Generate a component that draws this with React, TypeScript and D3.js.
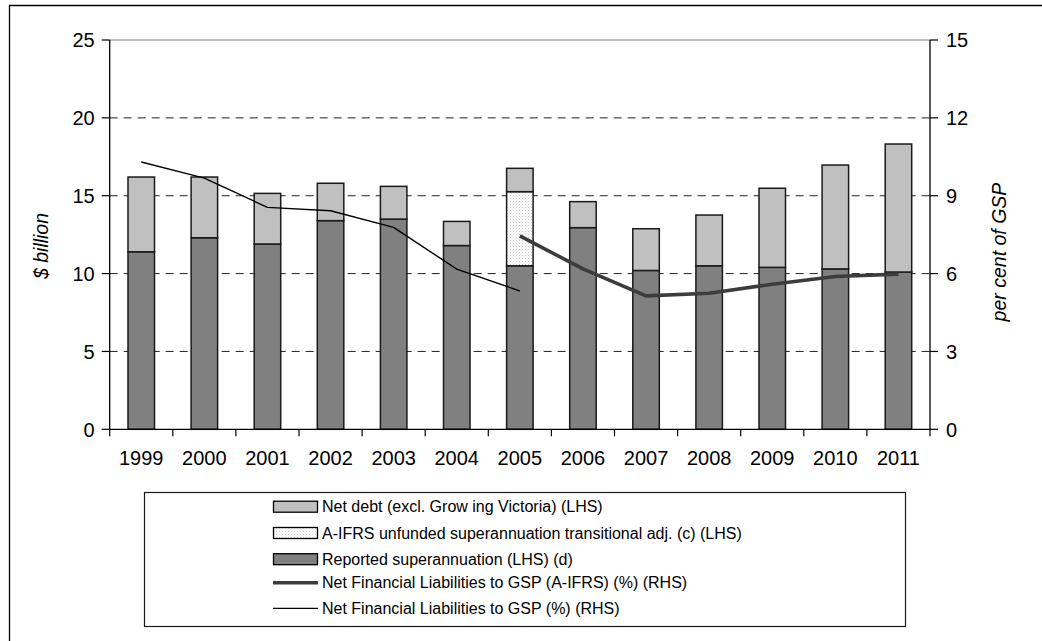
import React from 'react';
import * as d3 from 'd3';

const years = ['1999', '2000', '2001', '2002', '2003', '2004', '2005', '2006', '2007', '2008', '2009', '2010', '2011'];
const reportedSuper = [11.4, 12.3, 11.9, 13.4, 13.5, 11.8, 10.5, 12.95, 10.2, 10.5, 10.4, 10.3, 10.1];
const aifrsAdj = [0, 0, 0, 0, 0, 0, 4.76, 0, 0, 0, 0, 0, 0];
const netDebt = [4.8, 3.9, 3.25, 2.4, 2.1, 1.55, 1.5, 1.67, 2.68, 3.26, 5.08, 6.67, 8.22];
const nflGsp: (number | null)[] = [10.3, 9.68, 8.55, 8.42, 7.78, 6.17, 5.33, null, null, null, null, null, null];
const nflGspAifrs: (number | null)[] = [null, null, null, null, null, null, 7.45, 6.18, 5.14, 5.24, 5.59, 5.89, 5.98];
const leftTicks = [0, 5, 10, 15, 20, 25];
const rightTicks = [0, 3, 6, 9, 12, 15];
const legendItems = [
  { label: 'Net debt (excl. Grow ing Victoria) (LHS)', kind: 'netDebt' },
  { label: 'A-IFRS unfunded superannuation transitional adj. (c) (LHS)', kind: 'adj' },
  { label: 'Reported superannuation (LHS) (d)', kind: 'super' },
  { label: 'Net Financial Liabilities to GSP (A-IFRS) (%) (RHS)', kind: 'thick' },
  { label: 'Net Financial Liabilities to GSP (%) (RHS)', kind: 'thin' },
];

const FONT = '"Liberation Sans", Arial, Helvetica, sans-serif';

export default function App() {
  const L = 109.7, R = 930, T = 40, B = 429.3;
  const x = d3.scaleBand<string>().domain(years).range([L, R]).padding(0);
  const yL = d3.scaleLinear().domain([0, 25]).range([B, T]);
  const yR = d3.scaleLinear().domain([0, 15]).range([B, T]);
  const barW = x.step() * 0.42;
  const cx = (y: string) => (x(y) as number) + x.step() / 2;

  const lineGen = d3.line<number | null>()
    .defined((d) => d !== null)
    .x((_, i) => cx(years[i]))
    .y((d) => yR(d as number));

  const stacked = years.map((yr, i) => {
    const s0 = 0, s1 = reportedSuper[i];
    const a1 = s1 + aifrsAdj[i];
    const n1 = a1 + netDebt[i];
    return { yr, s0, s1, a1, n1 };
  });

  const legendRowY = [506.7, 533, 559.2, 582.7, 608.3];

  return (
    <svg width={1042} height={641} style={{ position: 'absolute', left: 0, top: 0, background: '#fff' }}>
      <defs>
        <pattern id="dots" width="3" height="3" patternUnits="userSpaceOnUse">
          <rect width="3" height="3" fill="#ffffff" />
          <rect x="0" y="0" width="1" height="1" fill="#c8c8c8" />
          <rect x="1.5" y="1.5" width="1" height="1" fill="#d8d8d8" />
        </pattern>
      </defs>
      <rect x={0} y={0} width={1042} height={641} fill="#fff" />
      {/* outer frame */}
      <path d="M9.5,641 V5.5 H1042" fill="none" stroke="#000" strokeWidth={1.3} />

      {/* gridlines */}
      {leftTicks.filter((t) => t > 0 && t < 25).map((t) => (
        <line key={'g' + t} x1={L} x2={R} y1={yL(t)} y2={yL(t)} stroke="#222" strokeWidth={1} strokeDasharray="8,6" />
      ))}
      <line x1={L} x2={R} y1={yL(25)} y2={yL(25)} stroke="#808080" strokeWidth={1.2} />

      {/* bars */}
      {stacked.map((d) => (
        <g key={d.yr}>
          <rect x={cx(d.yr) - barW / 2} y={yL(d.s1)} width={barW} height={yL(d.s0) - yL(d.s1)} fill="#808080" stroke="#1a1a1a" strokeWidth={1.5} />
          {d.a1 > d.s1 && (
            <rect x={cx(d.yr) - barW / 2} y={yL(d.a1)} width={barW} height={yL(d.s1) - yL(d.a1)} fill="url(#dots)" stroke="#1a1a1a" strokeWidth={1.5} />
          )}
          <rect x={cx(d.yr) - barW / 2} y={yL(d.n1)} width={barW} height={yL(d.a1) - yL(d.n1)} fill="#c0c0c0" stroke="#1a1a1a" strokeWidth={1.5} />
        </g>
      ))}

      {/* lines */}
      <path d={lineGen(nflGsp) || ''} fill="none" stroke="#000" strokeWidth={1.4} strokeLinejoin="round" />
      <path d={lineGen(nflGspAifrs) || ''} fill="none" stroke="#3c3c3c" strokeWidth={3.6} strokeLinejoin="round" />

      {/* axes */}
      <line x1={L} x2={L} y1={T} y2={B} stroke="#000" strokeWidth={1.3} />
      <line x1={R} x2={R} y1={T} y2={B} stroke="#000" strokeWidth={1.3} />
      <line x1={L} x2={R} y1={B} y2={B} stroke="#000" strokeWidth={1.3} />
      {leftTicks.map((t) => (
        <g key={'l' + t}>
          <line x1={L - 8} x2={L} y1={yL(t)} y2={yL(t)} stroke="#000" strokeWidth={1.2} />
          <text x={L - 15} y={yL(t)} dy="0.36em" textAnchor="end" fontSize={20} fontFamily={FONT} fill="#000">{t}</text>
        </g>
      ))}
      {rightTicks.map((t) => (
        <g key={'r' + t}>
          <line x1={R} x2={R + 8} y1={yR(t)} y2={yR(t)} stroke="#000" strokeWidth={1.2} />
          <text x={R + 16} y={yR(t)} dy="0.36em" textAnchor="start" fontSize={20} fontFamily={FONT} fill="#000">{t}</text>
        </g>
      ))}
      {years.map((yr, i) => (
        <line key={'xt' + i} x1={x(yr) as number} x2={x(yr) as number} y1={B} y2={B + 7} stroke="#000" strokeWidth={1.2} />
      ))}
      <line x1={R} x2={R} y1={B} y2={B + 7} stroke="#000" strokeWidth={1.2} />
      {years.map((yr) => (
        <text key={'xl' + yr} x={cx(yr)} y={465} textAnchor="middle" fontSize={20} fontFamily={FONT} fill="#000">{yr}</text>
      ))}

      {/* axis titles */}
      <text transform="translate(47.5,246) rotate(-90)" textAnchor="middle" fontSize={19.5} fontStyle="italic" fontFamily={FONT} fill="#000">$ billion</text>
      <text transform="translate(1006,252) rotate(-90)" textAnchor="middle" fontSize={19.5} fontStyle="italic" fontFamily={FONT} fill="#000">per cent of GSP</text>

      {/* legend */}
      <rect x={144.5} y={492.5} width={761} height={134} fill="#fff" stroke="#1a1a1a" strokeWidth={1.2} />
      {legendItems.map((it, i) => {
        const cy = legendRowY[i];
        let sw: React.ReactNode = null;
        if (it.kind === 'netDebt') sw = <rect x={273.5} y={cy - 5.5} width={44} height={11} fill="#c0c0c0" stroke="#000" strokeWidth={1.3} />;
        if (it.kind === 'adj') sw = <rect x={273.5} y={cy - 5.5} width={44} height={11} fill="url(#dots)" stroke="#000" strokeWidth={1.3} />;
        if (it.kind === 'super') sw = <rect x={273.5} y={cy - 5.5} width={44} height={11} fill="#808080" stroke="#000" strokeWidth={1.3} />;
        if (it.kind === 'thick') sw = <line x1={273} x2={318} y1={cy} y2={cy} stroke="#3c3c3c" strokeWidth={3.6} />;
        if (it.kind === 'thin') sw = <line x1={273} x2={318} y1={cy} y2={cy} stroke="#000" strokeWidth={1.3} />;
        return (
          <g key={it.kind}>
            {sw}
            <text x={322} y={cy} dy="0.36em" fontSize={16} fontFamily={FONT} fill="#000">{it.label}</text>
          </g>
        );
      })}
    </svg>
  );
}
